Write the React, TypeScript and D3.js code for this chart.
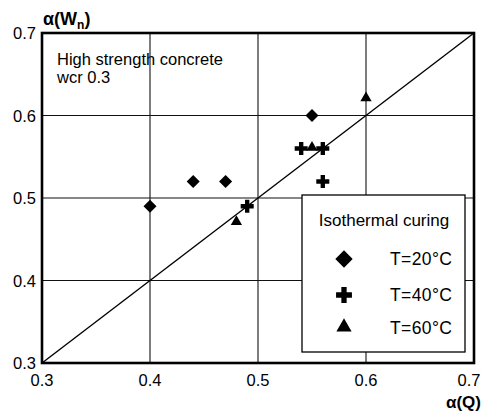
import React, { useRef, useEffect } from 'react';
import * as d3 from 'd3';

// alpha(Q) vs alpha(Wn)
const diamondX = [0.40, 0.44, 0.47, 0.55];
const diamondY = [0.49, 0.52, 0.52, 0.60];
const plusX = [0.49, 0.54, 0.56, 0.56];
const plusY = [0.49, 0.56, 0.56, 0.52];
const triangleX = [0.48, 0.55, 0.60];
const triangleY = [0.47, 0.56, 0.62];

const ticks = [0.3, 0.4, 0.5, 0.6, 0.7];
const tickLabels = ['0.3', '0.4', '0.5', '0.6', '0.7'];
const legendLabels = ['T=20°C', 'T=40°C', 'T=60°C'];

const App = () => {
  const ref = useRef<SVGSVGElement>(null);

  useEffect(() => {
    const svg = d3.select(ref.current);
    svg.selectAll('*').remove();

    const left = 42, right = 474, top = 33, bottom = 363;
    const x = d3.scaleLinear().domain([0.3, 0.7]).range([left, right]);
    const y = d3.scaleLinear().domain([0.3, 0.7]).range([bottom, top]);
    const font = 'Liberation Sans, Arial, sans-serif';

    // grid
    const grid = svg.append('g').attr('stroke', '#111').attr('stroke-width', 1.1);
    ticks.slice(1, -1).forEach(t => {
      grid.append('line').attr('x1', x(t)).attr('x2', x(t)).attr('y1', top).attr('y2', bottom);
      grid.append('line').attr('x1', left).attr('x2', right).attr('y1', y(t)).attr('y2', y(t));
    });

    // diagonal
    svg.append('line')
      .attr('x1', x(0.3)).attr('y1', y(0.3))
      .attr('x2', x(0.7)).attr('y2', y(0.7))
      .attr('stroke', '#000').attr('stroke-width', 1.4);

    // frame
    svg.append('rect')
      .attr('x', left).attr('y', top)
      .attr('width', right - left).attr('height', bottom - top)
      .attr('fill', 'none').attr('stroke', '#000').attr('stroke-width', 2.6);

    // tick labels
    ticks.forEach((t, i) => {
      svg.append('text')
        .attr('x', 36).attr('y', y(t) + 6)
        .attr('text-anchor', 'end')
        .attr('font-family', font).attr('font-size', 16.5)
        .text(tickLabels[i]);
      svg.append('text')
        .attr('x', i === ticks.length - 1 ? x(t) - 5 : x(t)).attr('y', 386)
        .attr('text-anchor', 'middle')
        .attr('font-family', font).attr('font-size', 16.5)
        .text(tickLabels[i]);
    });

    // axis titles
    const yt = svg.append('text')
      .attr('x', 43).attr('y', 25)
      .attr('font-family', font).attr('font-size', 18).attr('font-weight', 'bold');
    yt.append('tspan').text('α(W');
    yt.append('tspan').attr('font-size', 12).attr('dy', 4).text('n');
    yt.append('tspan').attr('dy', -4).text(')');
    svg.append('text')
      .attr('x', 481).attr('y', 408)
      .attr('text-anchor', 'end')
      .attr('font-family', font).attr('font-size', 17).attr('font-weight', 'bold')
      .text('α(Q)');

    // annotation
    svg.append('text')
      .attr('x', 57).attr('y', 65)
      .attr('font-family', font).attr('font-size', 16.5)
      .text('High strength concrete');
    svg.append('text')
      .attr('x', 57).attr('y', 83)
      .attr('font-family', font).attr('font-size', 16.5)
      .text('wcr 0.3');

    const diamond = (s: number) => d3.symbol().type(d3.symbolSquare).size(s)();
    const plus = (s: number) => d3.symbol().type(d3.symbolCross).size(s)();
    const tri = (s: number) => d3.symbol().type(d3.symbolTriangle).size(s)();

    // points
    diamondX.forEach((v, i) => {
      svg.append('path').attr('d', diamond(85))
        .attr('transform', `translate(${x(v)},${y(diamondY[i])}) rotate(45)`);
    });
    plusX.forEach((v, i) => {
      svg.append('path').attr('d', plus(94))
        .attr('transform', `translate(${x(v)},${y(plusY[i])})`);
    });
    triangleX.forEach((v, i) => {
      svg.append('path').attr('d', tri(55))
        .attr('transform', `translate(${x(v)},${y(triangleY[i]) - 1})`);
    });

    // legend
    const lg = svg.append('g');
    lg.append('rect')
      .attr('x', 302).attr('y', 195).attr('width', 163).attr('height', 157)
      .attr('fill', '#fff').attr('stroke', '#000').attr('stroke-width', 1.3);
    lg.append('text')
      .attr('x', 384).attr('y', 226)
      .attr('text-anchor', 'middle')
      .attr('font-family', font).attr('font-size', 17)
      .text('Isothermal curing');
    const legendY = [259, 295, 328];
    const legendSym = [
      (yy: number) => lg.append('path').attr('d', diamond(150)).attr('transform', `translate(344,${yy}) rotate(45)`),
      (yy: number) => lg.append('path').attr('d', plus(140)).attr('transform', `translate(344,${yy})`),
      (yy: number) => lg.append('path').attr('d', tri(100)).attr('transform', `translate(344,${yy - 1})`),
    ];
    legendLabels.forEach((l, i) => {
      legendSym[i](legendY[i]);
      lg.append('text')
        .attr('x', 390).attr('y', legendY[i] + 6)
        .attr('font-family', font).attr('font-size', 17.5)
        .attr('letter-spacing', 0.4)
        .text(l);
    });
  }, []);

  return (
    <>
      <style>{`body { margin: 0; }`}</style>
      <svg ref={ref} width={488} height={415} style={{ display: 'block', background: '#fff' }} />
    </>
  );
};

export default App;
